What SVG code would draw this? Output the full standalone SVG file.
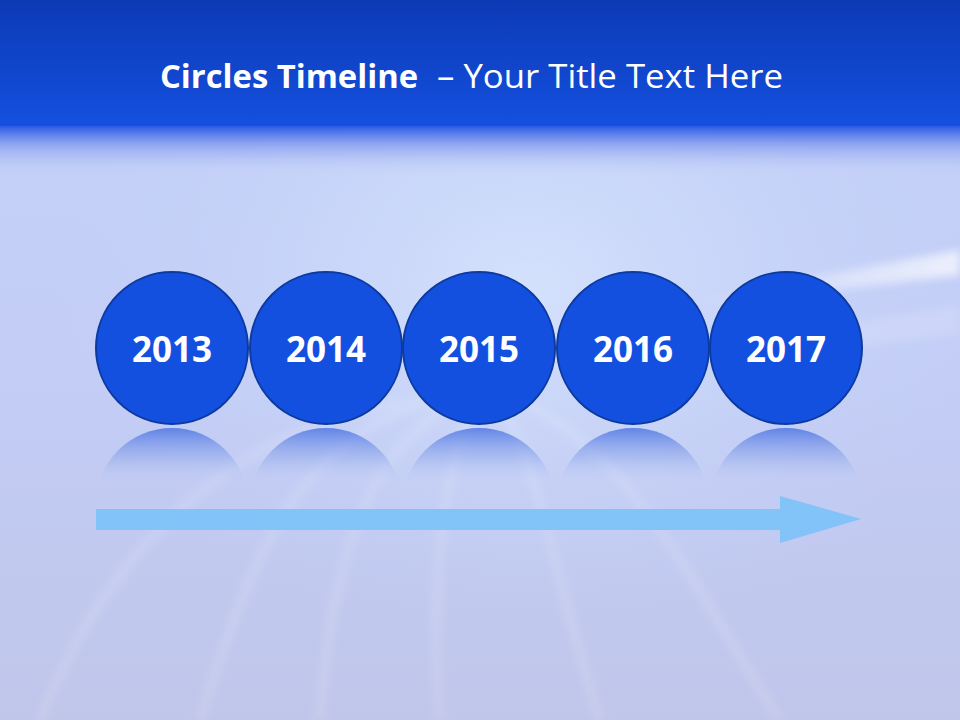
<svg xmlns="http://www.w3.org/2000/svg" width="960" height="720" viewBox="0 0 960 720">
<defs>
<linearGradient id="bg" x1="0" y1="0" x2="0" y2="1">
<stop offset="0" stop-color="#c4d2f8"/>
<stop offset="0.5" stop-color="#c3cdf6"/>
<stop offset="1" stop-color="#c0c6ea"/>
</linearGradient>
<linearGradient id="hdr" x1="0" y1="0" x2="0" y2="1">
<stop offset="0" stop-color="#0c3ab5"/>
<stop offset="1" stop-color="#1450e0"/>
</linearGradient>
<linearGradient id="fade" x1="0" y1="0" x2="0" y2="1">
<stop offset="0" stop-color="#2a5ae6"/>
<stop offset="0.35" stop-color="#7f97ee" stop-opacity="0.8"/>
<stop offset="1" stop-color="#c4d2f8" stop-opacity="0"/>
</linearGradient>
<radialGradient id="glow" cx="0.55" cy="0.4" r="0.5">
<stop offset="0" stop-color="#e0eeff" stop-opacity="0.6"/>
<stop offset="0.5" stop-color="#d4e4ff" stop-opacity="0.25"/>
<stop offset="1" stop-color="#c4d2f8" stop-opacity="0"/>
</radialGradient>
<linearGradient id="streak" x1="0" y1="0" x2="1" y2="0">
<stop offset="0" stop-color="#ffffff" stop-opacity="0"/>
<stop offset="1" stop-color="#ffffff" stop-opacity="0.85"/>
</linearGradient>
<linearGradient id="refl" gradientUnits="userSpaceOnUse" x1="0" y1="428" x2="0" y2="484">
<stop offset="0" stop-color="#3563e0" stop-opacity="0.7"/>
<stop offset="0.55" stop-color="#7d9ae8" stop-opacity="0.35"/>
<stop offset="1" stop-color="#c4d2f8" stop-opacity="0"/>
</linearGradient>
<clipPath id="rc"><rect x="0" y="426" width="960" height="58"/></clipPath>
<filter id="blur" x="-20%" y="-20%" width="140%" height="140%"><feGaussianBlur stdDeviation="4"/></filter>
<style>
.c{fill:#1450e0;stroke:#0c3a9e;stroke-width:2}
.t{font-family:"Open Sans","Liberation Sans",sans-serif;font-weight:bold;font-size:35px;fill:#ffffff;text-anchor:middle}
.r{fill:url(#refl)}
</style>
</defs>
<rect width="960" height="720" fill="url(#bg)"/>
<rect width="960" height="720" fill="url(#glow)"/>
<polygon points="690,300 960,250 960,275 700,306" fill="url(#streak)" opacity="0.8" filter="url(#blur)"/>
<polygon points="560,370 960,305 960,335 580,378" fill="#ffffff" opacity="0.15" filter="url(#blur)"/>
<g opacity="0.12" stroke="#ffffff" fill="none" stroke-width="10" filter="url(#blur)">
<path d="M440,400 C300,430 250,560 200,720"/>
<path d="M460,400 C360,450 330,580 320,720"/>
<path d="M480,400 C440,460 430,600 440,720"/>
<path d="M500,400 C540,470 560,600 600,720"/>
<path d="M520,400 C640,460 700,600 780,720"/>
<path d="M420,400 C260,420 120,520 40,720"/>
</g>
<rect x="0" y="0" width="960" height="128" fill="url(#hdr)"/>
<rect x="0" y="126" width="960" height="50" fill="url(#fade)"/>
<g font-family="Open Sans,Liberation Sans,sans-serif" font-size="32" fill="#ffffff">
<text x="160" y="88" font-weight="bold" textLength="258" lengthAdjust="spacingAndGlyphs">Circles Timeline</text>
<text x="437" y="88" textLength="346" lengthAdjust="spacingAndGlyphs">– Your Title Text Here</text>
</g>
<g id="reflections" clip-path="url(#rc)">
<circle class="r" cx="172" cy="504" r="76"/>
<circle class="r" cx="326" cy="504" r="76"/>
<circle class="r" cx="479" cy="504" r="76"/>
<circle class="r" cx="633" cy="504" r="76"/>
<circle class="r" cx="786" cy="504" r="76"/>
</g>
<g id="connectors">
<polygon points="96,509 780,509 780,496 861,519 780,543 780,530 96,530" fill="#7ec2f8" opacity="0.95"/>
</g>
<g id="n2013"><circle class="c" cx="172" cy="348" r="76"/><text class="t" x="172" y="362">2013</text></g>
<g id="n2014"><circle class="c" cx="326" cy="348" r="76"/><text class="t" x="326" y="362">2014</text></g>
<g id="n2015"><circle class="c" cx="479" cy="348" r="76"/><text class="t" x="479" y="362">2015</text></g>
<g id="n2016"><circle class="c" cx="633" cy="348" r="76"/><text class="t" x="633" y="362">2016</text></g>
<g id="n2017"><circle class="c" cx="786" cy="348" r="76"/><text class="t" x="786" y="362">2017</text></g>
</svg>
